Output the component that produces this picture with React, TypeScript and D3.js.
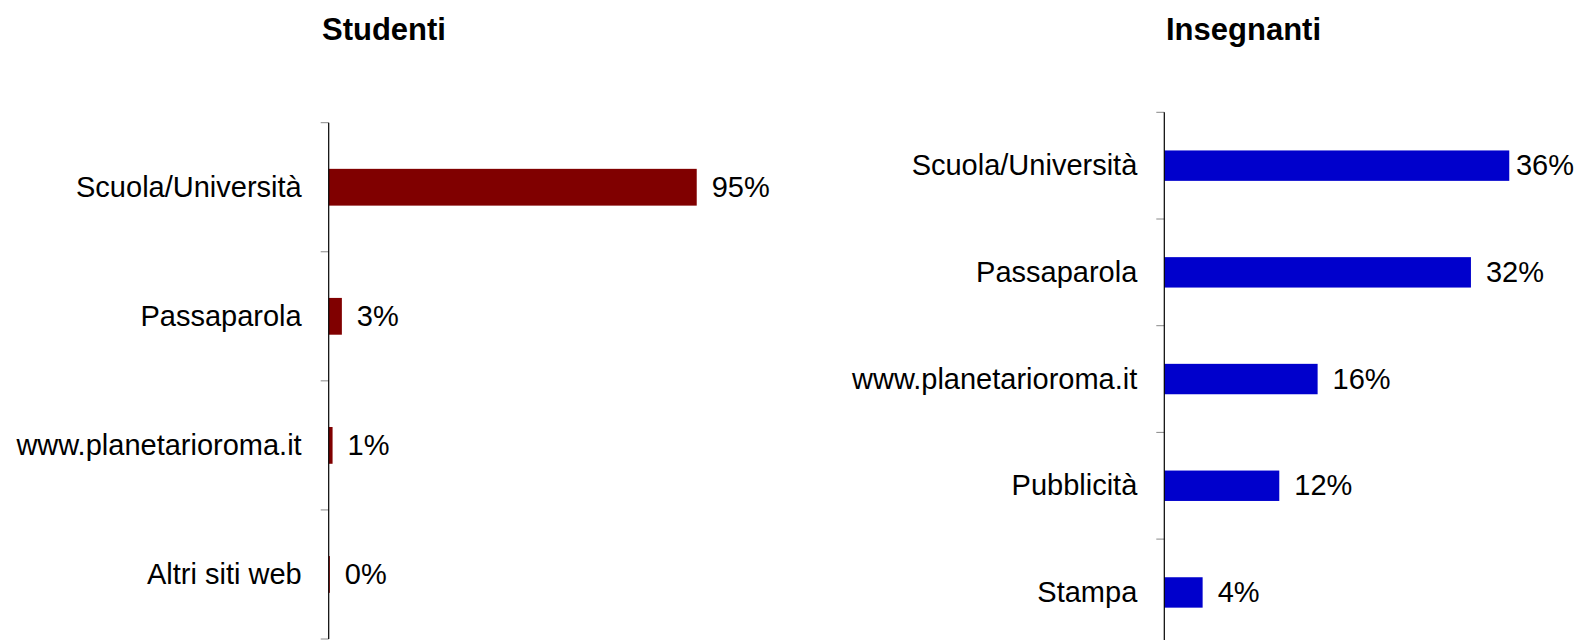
import React, { useEffect } from "react";
import * as d3 from "d3";

const W = 1580;
const H = 640;

const studentCategories = ["Scuola/Università", "Passaparola", "www.planetarioroma.it", "Altri siti web"];
const studentValues = [95, 3.4, 1.0, 0.3];

const teacherCategories = ["Scuola/Università", "Passaparola", "www.planetarioroma.it", "Pubblicità", "Stampa"];
const teacherValues = [36, 32, 16, 12, 4];

const FONT = "'Liberation Sans', Arial, Helvetica, sans-serif";
const FS = 29;

function estWidth(s: string, fs: number) {
  let w = 0;
  for (const ch of s) w += ch === "%" ? 0.889 : 0.556;
  return w * fs;
}

type PanelProps = {
  title: string;
  titleX: number;
  categories: string[];
  values: number[];
  axisX: number;
  xMax: number;
  xWidth: number;
  yTop: number;
  yBottom: number;
  color: string;
};

function Panel({ title, titleX, categories, values, axisX, xMax, xWidth, yTop, yBottom, color }: PanelProps) {
  const x = d3.scaleLinear().domain([0, xMax]).range([axisX, axisX + xWidth]);
  const p = 0.715;
  const y = d3
    .scaleBand<string>()
    .domain(categories)
    .range([yTop, yBottom])
    .paddingInner(p)
    .paddingOuter(p / 2);
  const step = y.step();
  const ticks = d3.range(categories.length + 1).map((i) => yTop + i * step);
  const labelGap = 15;
  const rightLimit = W - 6;

  return (
    <g>
      <text x={titleX} y={40} fontFamily={FONT} fontSize={31} fontWeight="bold" fill="#000">
        {title}
      </text>
      {categories.map((c, i) => {
        const v = values[i];
        const y0 = y(c) as number;
        const barEnd = x(v);
        const lbl = `${Math.round(v)}%`;
        const w = estWidth(lbl, FS);
        let lx = barEnd + labelGap;
        if (lx + w > rightLimit) lx = rightLimit - w;
        const cy = y0 + y.bandwidth() / 2;
        return (
          <g key={c}>
            <rect x={x(0)} y={y0} width={Math.max(0, barEnd - x(0))} height={y.bandwidth()} fill={color} />
            <text x={lx} y={cy} dy="0.33em" fontFamily={FONT} fontSize={FS} fill="#000">
              {lbl}
            </text>
            <text x={axisX - 27} y={cy} dy="0.33em" textAnchor="end" fontFamily={FONT} fontSize={FS} fill="#000">
              {c}
            </text>
          </g>
        );
      })}
      {ticks.map((t, i) => (
        <line key={i} x1={axisX - 8} x2={axisX} y1={t} y2={t} stroke="#888" strokeWidth={1} />
      ))}
      <line x1={axisX} x2={axisX} y1={yTop} y2={yBottom} stroke="#000" strokeWidth={1.2} />
    </g>
  );
}

export default function App() {
  useEffect(() => {
    document.body.style.margin = "0";
  }, []);
  return (
    <svg
      width={W}
      height={H}
      viewBox={`0 0 ${W} ${H}`}
      style={{ position: "absolute", left: 0, top: 0, background: "#fff" }}
    >
      <rect x={0} y={0} width={W} height={H} fill="#fff" />
      <Panel
        title="Studenti"
        titleX={322}
        categories={studentCategories}
        values={studentValues}
        axisX={328.7}
        xMax={100}
        xWidth={387.4}
        yTop={122.7}
        yBottom={639}
        color="#800000"
      />
      <Panel
        title="Insegnanti"
        titleX={1166}
        categories={teacherCategories}
        values={teacherValues}
        axisX={1164.3}
        xMax={40}
        xWidth={383.3}
        yTop={112.3}
        yBottom={645.8}
        color="#0000CC"
      />
    </svg>
  );
}
